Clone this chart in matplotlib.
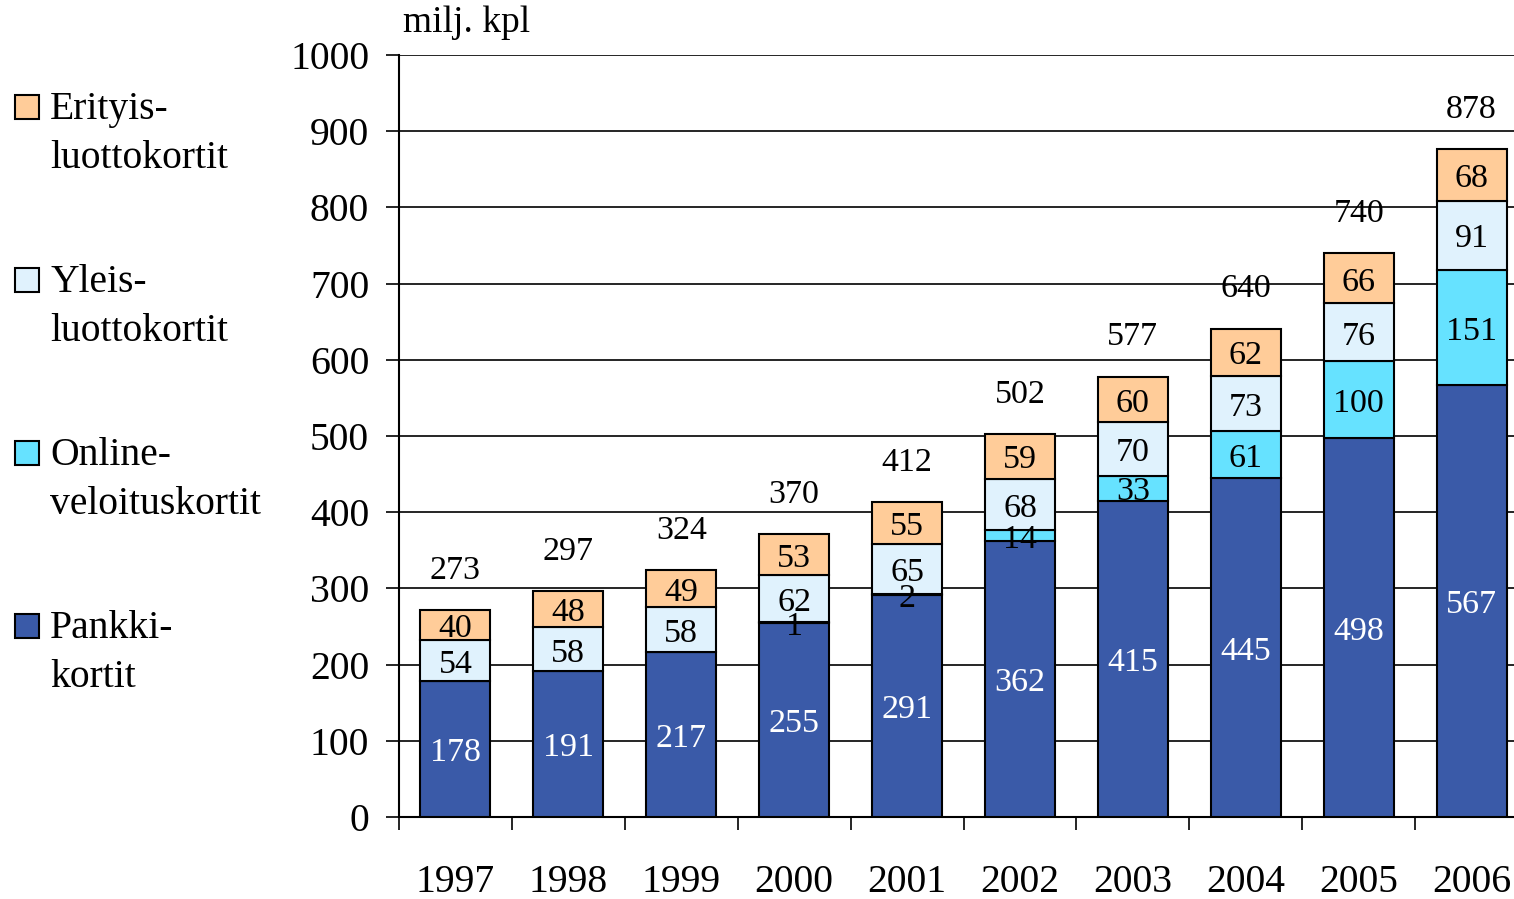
import matplotlib.pyplot as plt
from matplotlib.patches import Rectangle
from matplotlib.transforms import offset_copy
import numpy as np

plt.rcParams['font.family'] = ['Liberation Serif', 'DejaVu Serif']

years = ['1997', '1998', '1999', '2000', '2001', '2002', '2003', '2004', '2005', '2006']
pankki = [178, 191, 217, 255, 291, 362, 415, 445, 498, 567]
online = [0, 0, 0, 1, 2, 14, 33, 61, 100, 151]
yleis = [54, 58, 58, 62, 65, 68, 70, 73, 76, 91]
erityis = [40, 48, 49, 53, 55, 59, 60, 62, 66, 68]
totals = [273, 297, 324, 370, 412, 502, 577, 640, 740, 878]

series = [
    (['Pankki-', 'kortit'], pankki, '#3A5AA8', 'white'),
    (['Online-', 'veloituskortit'], online, '#66E2FF', 'black'),
    (['Yleis-', 'luottokortit'], yleis, '#E0F2FD', 'black'),
    (['Erityis-', 'luottokortit'], erityis, '#FFCC99', 'black'),
]

W, H = 1514, 899
fig = plt.figure(figsize=(W / 100, H / 100), dpi=100)
ax = fig.add_axes([399 / W, 1 - 817 / H, (1528 - 399) / W, (817 - 55) / H])
# nudge value labels a few pixels down, like the original
lbl_tr = offset_copy(ax.transData, fig=fig, x=0, y=-4, units='dots')

x = np.arange(len(years))
bottom = np.zeros(len(years))
for name, vals, col, tcol in series:
    vals = np.array(vals, dtype=float)
    ax.bar(x, vals, 0.62, bottom=bottom, color=col, edgecolor='black',
           linewidth=1.5, zorder=3)
    for xi, b, v in zip(x, bottom, vals):
        if v > 0:
            ax.text(xi, b + v / 2, f'{v:.0f}', ha='center', va='center',
                    fontsize=24.5, color=tcol, zorder=5, transform=lbl_tr)
    bottom += vals

for xi, b, t in zip(x, bottom, totals):
    ax.text(xi, b + 57, str(t), ha='center', va='center', fontsize=24.5,
            zorder=5, transform=lbl_tr)

ax.set_xlim(-0.5, 9.5)
ax.set_ylim(0, 1000)
ax.set_yticks(range(0, 1001, 100))
ax.yaxis.grid(True, color='black', linewidth=1.2, zorder=0)
ax.set_axisbelow(True)
ax.tick_params(axis='y', labelsize=28.5, length=9.5, width=1.2, pad=12, direction='out')
ax.set_xticks(x)
ax.set_xticklabels(years)
ax.tick_params(axis='x', which='major', length=0, labelsize=28.5, pad=34)
ax.set_xticks(np.arange(-0.5, 10, 1), minor=True)
ax.tick_params(axis='x', which='minor', length=9.5, width=1.2, direction='out')
for s in ['top', 'right']:
    ax.spines[s].set_visible(False)
for s in ['left', 'bottom']:
    ax.spines[s].set_linewidth(1.5)

fig.text(403 / W, 1 - 23 / H, 'milj. kpl', ha='left', va='center', fontsize=27)

# legend drawn by hand on the left
leg_base = [119, 292, 465, 638]
for (lines, vals, col, tcol), yb in zip(series[::-1], leg_base):
    fig.add_artist(Rectangle((15 / W, 1 - yb / H), 24 / W, 24 / H,
                             transform=fig.transFigure, facecolor=col,
                             edgecolor='black', linewidth=1.5))
    fig.text(50 / W, 1 - yb / H, lines[0], ha='left', va='baseline', fontsize=28.5)
    fig.text(50 / W, 1 - (yb + 49) / H, lines[1], ha='left', va='baseline', fontsize=28.5)

fig.savefig('out.png', dpi=100)
